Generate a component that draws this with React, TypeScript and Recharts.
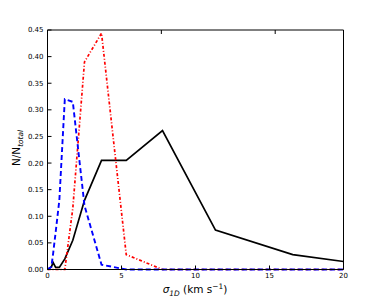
import { LineChart, Line, XAxis, YAxis, Label } from "recharts";

// bin centres (km/s) and fractions
const sigma = [0, 0.26, 0.38, 0.55, 0.8, 1.17, 1.71, 2.5, 3.65, 5.32, 7.77, 11.35, 16.57, 20];
const fracBlack = [0, 0.005, 0.013, 0.004, 0.004, 0.02, 0.055, 0.13, 0.205, 0.205, 0.261, 0.074, 0.028, 0.015];
const fracBlue = [0, 0.005, 0.03, 0.07, 0.13, 0.32, 0.315, 0.12, 0.009, 0.0, 0, 0, 0, 0];
const fracRed = [0, 0, 0, 0, 0, 0, 0.115, 0.39, 0.444, 0.028, 0, 0, 0, 0];

const xTicks = [0, 5, 10, 15, 20];
const yTicks = [0, 0.05, 0.1, 0.15, 0.2, 0.25, 0.3, 0.35, 0.4, 0.45];

const rows = sigma.map((s, i) => ({
  s,
  black: fracBlack[i],
  blue: fracBlue[i],
  red: fracRed[i],
}));

const font = "DejaVu Sans";
const tickStyle = { fontSize: 7, fill: "#000", fontFamily: font };

const YTitle = () => (
  <text
    transform="translate(20,148) rotate(-90)"
    textAnchor="middle"
    fontFamily={font}
    fontSize={10.5}
    fill="#000"
  >
    N/N
    <tspan fontStyle="italic" fontSize={7.4} dy={2.5}>total</tspan>
  </text>
);

const XTitle = () => (
  <text x={195} y={293} textAnchor="middle" fontFamily={font} fontSize={10.5} fill="#000">
    <tspan fontStyle="italic">σ</tspan>
    <tspan fontStyle="italic" fontSize={7.4} dy={2.5}>1D</tspan>
    <tspan dy={-2.5}> (km s</tspan>
    <tspan fontSize={7.4} dy={-4}>−1</tspan>
    <tspan dy={4}>)</tspan>
  </text>
);

export default function App() {
  return (
    <div style={{ position: "absolute", left: 0, top: 0 }}>
      <LineChart
        width={382}
        height={300}
        data={rows}
        margin={{ top: 0, right: 0.5, bottom: 0.5, left: 0.5 }}
      >
        <XAxis
          dataKey="s"
          type="number"
          domain={[0, 20]}
          ticks={xTicks}
          height={30}
          tickSize={-4}
          tickMargin={8}
          tick={tickStyle}
          stroke="#000"
          axisLine={{ stroke: "#000" }}
          tickLine={{ stroke: "#000" }}
        >
          <Label content={() => <XTitle />} />
        </XAxis>
        <XAxis
          xAxisId="top"
          orientation="top"
          type="number"
          domain={[0, 20]}
          ticks={xTicks}
          height={30}
          tickSize={-4}
          tickFormatter={() => ""}
          axisLine={{ stroke: "#000" }}
          tickLine={{ stroke: "#000" }}
        />
        <YAxis
          type="number"
          domain={[0, 0.45]}
          ticks={yTicks}
          width={47}
          tickSize={-4}
          tickMargin={8}
          tick={tickStyle}
          tickFormatter={(v: number) => v.toFixed(2)}
          axisLine={{ stroke: "#000" }}
          tickLine={{ stroke: "#000" }}
        >
          <Label content={() => <YTitle />} />
        </YAxis>
        <YAxis
          yAxisId="right"
          orientation="right"
          type="number"
          domain={[0, 0.45]}
          ticks={yTicks}
          width={38}
          tickSize={-4}
          tickFormatter={() => ""}
          axisLine={{ stroke: "#000" }}
          tickLine={{ stroke: "#000" }}
        />
        <Line
          dataKey="black"
          type="linear"
          stroke="#000"
          strokeWidth={1.7}
          dot={false}
          isAnimationActive={false}
        />
        <Line
          dataKey="red"
          type="linear"
          stroke="#ff0000"
          strokeWidth={1.7}
          strokeDasharray="3 2 1 2"
          dot={false}
          isAnimationActive={false}
        />
        <Line
          dataKey="blue"
          type="linear"
          stroke="#0000ff"
          strokeWidth={1.9}
          strokeDasharray="5 3"
          dot={false}
          isAnimationActive={false}
        />
      </LineChart>
    </div>
  );
}
